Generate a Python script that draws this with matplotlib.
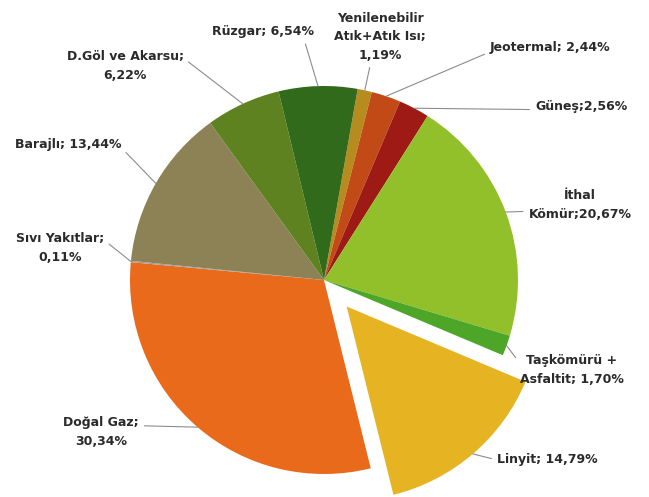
import numpy as np
import matplotlib
matplotlib.use("Agg")
from matplotlib import pyplot as plt

# slices, clockwise from the top
labels = ["Yenilenebilir\nAtık+Atık Isı;\n1,19%", "Jeotermal; 2,44%", "Güneş;2,56%",
          "İthal\nKömür;20,67%", "Taşkömürü +\nAsfaltit; 1,70%", "Linyit; 14,79%",
          "Doğal Gaz;\n30,34%", "Sıvı Yakıtlar;\n0,11%", "Barajlı; 13,44%",
          "D.Göl ve Akarsu;\n6,22%", "Rüzgar; 6,54%"]
values = [1.19, 2.44, 2.56, 20.67, 1.70, 14.79, 30.34, 0.11, 13.44, 6.22, 6.54]
colors = ["#B68C1E", "#C24A16", "#9E1A14", "#92C02A", "#4EA628", "#E6B422",
          "#E86A1A", "#A0A0A0", "#8C8255", "#5E8220", "#326A1C"]
explode = [0, 0, 0, 0, 0, 0.18, 0, 0, 0, 0, 0]

# label placement in pixels
W, H = 649, 497
CX, CY, R = 324, 280, 194
text_px = [(380, 37, "center"), (490, 48, "left"), (535, 107, "left"),
           (580, 205, "center"), (572, 370, "center"), (497, 460, "left"),
           (101, 432, "center"), (60, 248, "center"), (68, 145, "center"),
           (125, 66, "center"), (263, 32, "center")]
relpos = [(0.4, 0.0), (0.0, 0.2), (0.0, 0.3), (0.0, 0.3), (0.0, 0.7), (0.0, 0.5),
          (1.0, 0.7), (1.0, 0.75), (1.0, 0.3), (1.0, 0.75), (0.9, 0.0)]

fig = plt.figure(figsize=(W / 100, H / 100), dpi=100)
ax = fig.add_axes([0, 0, 1, 1])

wedges, _ = ax.pie(values, colors=colors, explode=explode, startangle=80,
                   counterclock=False, radius=1.0,
                   wedgeprops=dict(edgecolor="none"))
ax.set_xlim(-CX / R, (W - CX) / R)
ax.set_ylim(-(H - CY) / R, CY / R)
ax.set_aspect("equal")
ax.axis("off")

for w, lab, (px, py, ha), rp in zip(wedges, labels, text_px, relpos):
    mid = np.deg2rad((w.theta1 + w.theta2) / 2)
    cx, cy = w.center
    edge = (cx + np.cos(mid) * w.r, cy + np.sin(mid) * w.r)
    tx, ty = (px - CX) / R, (CY - py) / R
    ax.annotate(lab, xy=edge, xytext=(tx, ty), ha=ha, va="center",
                fontsize=9, fontweight="bold", color="#2A2A2A",
                multialignment="center", linespacing=1.55,
                arrowprops=dict(arrowstyle="-", color="#8C8C8C", lw=0.8,
                                relpos=rp, shrinkA=2, shrinkB=0))

fig.savefig("out.png", dpi=100, facecolor="white")
